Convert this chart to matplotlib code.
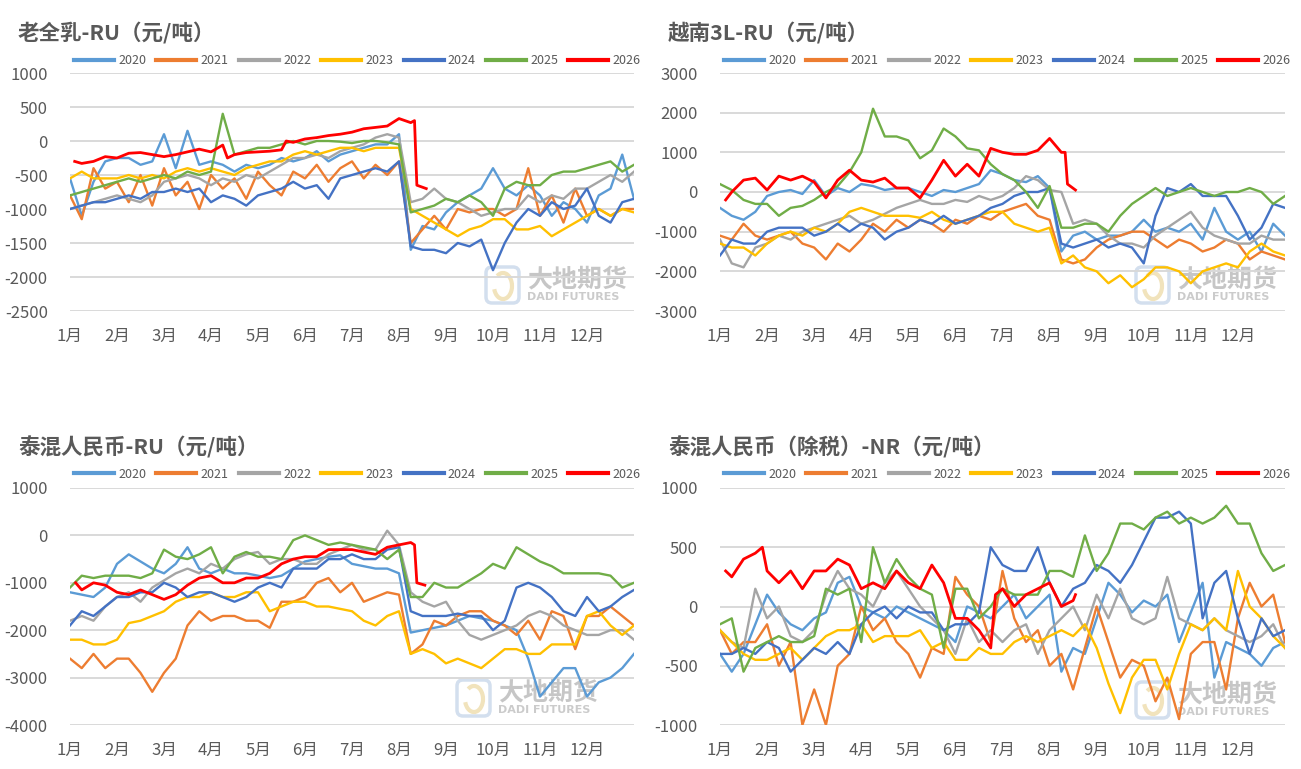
import numpy as np
import matplotlib
matplotlib.use('agg')
import matplotlib.pyplot as plt
from matplotlib.patches import FancyBboxPatch, Arc
from matplotlib.transforms import IdentityTransform

plt.rcParams['font.family'] = ['Noto Sans CJK SC', 'DejaVu Sans']
plt.rcParams['axes.unicode_minus'] = False

W, H = 1301, 769
YEARS = ['2020', '2021', '2022', '2023', '2024', '2025', '2026']
COLORS = ['#5B9BD5', '#ED7D31', '#A5A5A5', '#FFC000', '#4472C4', '#70AD47', '#FF0000']
MONTHS = ['1月', '2月', '3月', '4月', '5月', '6月', '7月', '8月', '9月', '10月', '11月', '12月']
TXT = '#595959'

# weekly-ish grid, in months since 1 Jan (2020-2025 series)
grid_x = np.arange(49) / 4

# ---- 老全乳-RU ----
p1_2020 = [-550, -1100, -600, -300, -250, -250, -350, -300, 100, -400, 150, -350, -300, -350, -450, -350, -400,
           -350, -250, -300, -250, -150, -300, -200, -150, -100, -50, -50, 100, -1600, -1250, -1300, -1050, -900,
           -800, -700, -400, -700, -800, -650, -800, -1100, -900, -1000, -1200, -800, -700, -200, -850]
p1_2021 = [-800, -1150, -400, -700, -600, -900, -500, -950, -400, -800, -600, -1000, -500, -700, -550, -850, -450,
           -650, -800, -450, -550, -350, -600, -400, -300, -550, -350, -500, -300, -1500, -1300, -1100, -1300,
           -1000, -1050, -1000, -1000, -1100, -1000, -400, -1100, -800, -1200, -700, -1100, -1000, -1100, -1000, -1000]
p1_2022 = [-1000, -950, -900, -850, -800, -850, -900, -800, -600, -550, -500, -550, -650, -550, -600, -500, -550,
           -450, -350, -250, -250, -200, -250, -150, -100, -50, 50, 100, 50, -900, -850, -700, -850, -900, -1000,
           -1100, -1050, -1000, -1000, -800, -900, -800, -850, -700, -700, -600, -500, -600, -450]
p1_2023 = [-550, -450, -550, -550, -550, -500, -550, -500, -550, -450, -400, -450, -400, -450, -500, -400, -350,
           -300, -300, -200, -150, -200, -150, -100, -100, -150, -100, -100, -100, -1000, -1100, -1200, -1300,
           -1400, -1300, -1250, -1150, -1150, -1300, -1300, -1250, -1400, -1300, -1200, -1100, -1000, -1100, -1000, -1050]
p1_2024 = [-1000, -950, -900, -900, -850, -800, -850, -750, -750, -700, -750, -700, -900, -800, -850, -950, -800,
           -750, -700, -600, -700, -650, -850, -550, -500, -450, -400, -450, -300, -1550, -1600, -1600, -1650,
           -1500, -1550, -1450, -1900, -1500, -1200, -1000, -1100, -900, -1000, -950, -700, -1100, -1200, -900, -850]
p1_2025 = [-800, -750, -700, -650, -600, -550, -600, -550, -500, -550, -450, -500, -450, 400, -200, -150, -100,
           -100, -50, 0, -50, 0, 0, -10, -30, 0, 0, -20, -50, -1050, -1000, -950, -850, -900, -800, -900, -1100,
           -700, -600, -650, -650, -500, -450, -450, -400, -350, -300, -450, -350]
p1_2026_x = [0.1, 0.25, 0.5, 0.75, 1.0, 1.25, 1.5, 1.75, 2.0, 2.25, 2.5, 2.75, 3.0, 3.25, 3.35, 3.5, 3.75, 4.0,
             4.25, 4.5, 4.6, 4.75, 5.0, 5.25, 5.5, 5.75, 6.0, 6.25, 6.5, 6.75, 7.0, 7.25, 7.33, 7.38, 7.58]
p1_2026 = [-300, -330, -300, -230, -250, -180, -170, -200, -230, -200, -160, -120, -160, -60, -250, -200, -170,
           -160, -150, -130, 0, -20, 30, 50, 80, 100, 130, 180, 200, 220, 330, 270, 300, -650, -700]

# ---- 越南3L-RU ----
p2_2020 = [-400, -600, -700, -500, -100, 0, 50, -50, 300, -100, 100, 0, 200, 150, 50, 100, 100, 0, -100, 50, 0,
           100, 200, 550, 450, 300, 250, 400, 100, -1500, -1100, -1000, -1200, -1100, -1100, -1000, -700, -1000,
           -900, -1000, -800, -1200, -400, -1000, -1200, -1000, -1500, -800, -1100]
p2_2021 = [-1100, -1200, -800, -1100, -1200, -1100, -1000, -1300, -1400, -1700, -1300, -1500, -1200, -800, -1000,
           -700, -900, -700, -800, -1000, -700, -800, -600, -700, -500, -400, -300, -600, -700, -1700, -1800, -1700,
           -1400, -1200, -1100, -1000, -1000, -1200, -1400, -1200, -1300, -1500, -1400, -1200, -1300, -1700, -1500,
           -1600, -1700]
p2_2022 = [-1200, -1800, -1900, -1400, -1300, -1100, -1200, -1000, -900, -800, -700, -600, -800, -700, -550, -400,
           -300, -200, -300, -300, -200, -250, -100, -200, -100, 100, 400, 300, 50, 0, -800, -700, -800, -1100,
           -1300, -1300, -1400, -1100, -900, -700, -500, -900, -1100, -1200, -1300, -1300, -1100, -1200, -1200]
p2_2023 = [-1300, -1400, -1400, -1600, -1300, -1100, -1000, -1100, -900, -1000, -800, -500, -400, -500, -600, -600,
           -600, -650, -500, -700, -800, -700, -600, -500, -500, -800, -900, -1000, -900, -1800, -1600, -1900, -2000,
           -2300, -2100, -2400, -2200, -1900, -1900, -2000, -2300, -2000, -1900, -1800, -1900, -1500, -1300, -1500, -1600]
p2_2024 = [-1600, -1200, -1300, -1300, -1000, -900, -900, -900, -1100, -1000, -800, -1000, -800, -900, -1200, -1000,
           -900, -700, -800, -600, -800, -700, -600, -400, -300, -100, 0, 0, 100, -1300, -1400, -1300, -1200, -1400,
           -1300, -1400, -1800, -600, 100, 0, 200, -100, -100, -100, -600, -1200, -900, -300, -400]
p2_2025 = [200, 50, -200, -300, -300, -600, -400, -350, -200, 0, 150, 500, 1000, 2100, 1400, 1400, 1300, 850, 1050,
           1600, 1400, 1100, 1050, 700, 450, 300, 0, -400, 150, -900, -900, -800, -800, -1000, -600, -300, -100, 100,
           -100, 0, 100, 0, -100, 0, 0, 100, 0, -300, -100]
p2_2026_x = [0.12, 0.25, 0.5, 0.75, 1.0, 1.25, 1.5, 1.75, 2.0, 2.25, 2.5, 2.75, 3.0, 3.25, 3.5, 3.75, 4.0, 4.25,
             4.5, 4.75, 5.0, 5.25, 5.5, 5.75, 6.0, 6.25, 6.5, 6.75, 7.0, 7.25, 7.33, 7.38, 7.55]
p2_2026 = [-200, 0, 300, 350, 50, 400, 300, 400, 250, -150, 300, 550, 300, 250, 350, 100, 100, -150, 300, 800, 400,
           700, 400, 1100, 1000, 950, 950, 1050, 1350, 1000, 1000, 200, 50]

# ---- 泰混人民币-RU ----
p3_2020 = [-1200, -1250, -1300, -1100, -600, -400, -550, -700, -800, -600, -250, -700, -800, -700, -800, -800, -850,
           -900, -850, -700, -550, -500, -450, -420, -600, -650, -700, -700, -800, -2050, -2000, -1950, -1900, -1800,
           -1700, -1750, -1800, -1900, -2000, -2600, -3400, -3100, -2800, -2800, -3400, -3100, -3000, -2800, -2500]
p3_2021 = [-2600, -2800, -2500, -2800, -2600, -2600, -2900, -3300, -2900, -2600, -1900, -1600, -1800, -1700, -1700,
           -1800, -1800, -1950, -1400, -1400, -1300, -1000, -900, -1200, -1000, -1400, -1300, -1200, -1250, -2500,
           -2300, -1800, -1900, -1700, -1600, -1600, -1800, -1900, -2100, -1800, -2200, -1600, -1700, -2400, -1700,
           -1700, -1500, -1700, -1900]
p3_2022 = [-1800, -1700, -1800, -1500, -1300, -1200, -1400, -1100, -950, -800, -700, -800, -600, -700, -500, -400,
           -350, -600, -500, -500, -600, -600, -400, -300, -200, -300, -300, 100, -200, -1200, -1400, -1500, -1400,
           -1800, -2100, -2200, -2100, -2000, -1900, -1700, -1600, -1700, -1900, -2000, -2100, -2100, -2000, -2000, -2200]
p3_2023 = [-2200, -2200, -2300, -2300, -2200, -1850, -1800, -1700, -1600, -1400, -1300, -1300, -1200, -1300, -1300,
           -1200, -1200, -1600, -1500, -1400, -1400, -1500, -1500, -1550, -1600, -1800, -1900, -1700, -1600, -2500,
           -2400, -2500, -2700, -2600, -2700, -2800, -2600, -2400, -2400, -2500, -2500, -2300, -2300, -2300, -1700,
           -1600, -1900, -2100, -1900]
p3_2024 = [-1900, -1600, -1700, -1500, -1300, -1300, -1200, -1200, -1000, -1100, -1300, -1200, -1200, -1300, -1400,
           -1300, -1100, -1000, -1100, -700, -700, -700, -500, -500, -400, -500, -500, -300, -250, -1600, -1700,
           -1700, -1700, -1650, -1700, -1700, -2000, -1800, -1100, -1000, -1100, -1300, -1600, -1700, -1300, -1600,
           -1500, -1300, -1150]
p3_2025 = [-1100, -850, -900, -850, -850, -850, -900, -800, -300, -450, -500, -400, -250, -800, -450, -350, -450,
           -450, -500, -100, 0, -100, -200, -150, -200, -250, -300, -500, -300, -1300, -1300, -1000, -1100, -1100,
           -950, -800, -600, -700, -250, -400, -550, -650, -800, -800, -800, -800, -850, -1100, -1000]
p3_2026_x = [0.12, 0.25, 0.5, 0.75, 1.0, 1.25, 1.5, 1.75, 2.0, 2.25, 2.5, 2.75, 3.0, 3.25, 3.5, 3.75, 4.0, 4.25,
             4.5, 4.75, 5.0, 5.25, 5.5, 5.75, 6.0, 6.25, 6.5, 6.75, 7.0, 7.25, 7.33, 7.38, 7.55]
p3_2026 = [-1000, -1150, -1000, -1050, -1200, -1250, -1150, -1250, -1350, -1250, -1050, -900, -850, -1000, -1000,
           -900, -900, -800, -600, -500, -450, -450, -300, -300, -300, -350, -400, -250, -200, -150, -200, -1000, -1050]

# ---- 泰混人民币（除税）-NR ----
p4_2020 = [-400, -550, -400, -150, 100, -50, -150, -200, -100, -50, 200, 250, 0, -50, -100, 0, -50, -100, -150,
           -200, -300, 0, -50, -100, 0, 100, -100, 0, 100, -550, -350, -400, -100, 200, 100, -50, 50, 0, 100, -300,
           -50, 200, -600, -300, -350, -400, -500, -350, -300]
p4_2021 = [-200, -400, -300, -300, -150, -500, -300, -1000, -700, -1000, -500, -400, 0, -200, -100, -300, -400, -600,
           -350, -400, 250, 100, 0, -300, 300, -100, -300, -200, -500, -400, -700, -350, 0, -300, -600, -450, -500,
           -800, -600, -950, -400, -300, -300, -700, -100, 200, 0, 100, -300]
p4_2022 = [-200, -300, -350, 150, -100, 0, -250, -300, -200, 100, 300, 150, 100, 0, 200, 300, 150, 0, -100, -200,
           -400, -100, -300, -200, -300, -200, -150, -400, -200, -100, 0, -200, 100, -100, 150, -100, -150, -100, 250,
           -100, -150, -200, -100, -200, -250, -300, -250, -150, -350]
p4_2023 = [-200, -300, -400, -450, -450, -400, -350, -450, -350, -250, -200, -200, -150, -300, -250, -250, -250, -200,
           -350, -300, -450, -450, -350, -400, -400, -300, -250, -300, -250, -200, -250, -150, -350, -650, -900, -600,
           -450, -450, -700, -400, -150, -200, -100, -200, 300, 0, -100, -250, -350]
p4_2024 = [-400, -400, -350, -400, -300, -350, -550, -450, -350, -400, -300, -400, -150, -50, 0, -100, 0, -50, -50,
           -200, -150, -150, -50, 500, 350, 300, 300, 500, 200, 0, 150, 200, 350, 300, 200, 350, 550, 750, 750, 800,
           700, -100, 200, 300, -100, -400, -100, -250, -200]
p4_2025 = [-150, -100, -550, -350, -300, -250, -300, -300, -250, 150, 100, 150, -300, 500, 200, 400, 250, 150, 100,
           -350, 150, 150, -100, 0, 150, 100, 100, 100, 300, 300, 250, 600, 300, 450, 700, 700, 650, 750, 800, 700,
           750, 700, 750, 850, 700, 700, 450, 300, 350]
p4_2026_x = [0.12, 0.25, 0.5, 0.75, 0.9, 1.0, 1.25, 1.5, 1.75, 2.0, 2.25, 2.5, 2.75, 3.0, 3.25, 3.5, 3.75, 4.0,
             4.25, 4.5, 4.75, 5.0, 5.25, 5.5, 5.75, 5.85, 6.0, 6.25, 6.5, 6.75, 7.0, 7.25, 7.5, 7.55]
p4_2026 = [300, 250, 400, 450, 500, 300, 200, 300, 150, 300, 300, 400, 350, 150, 200, 150, 300, 200, 150, 350, 200,
           -100, -100, -200, -350, 100, 150, 0, 100, 150, 200, 0, 50, 100]


def frac_rect(l, t, r, b):
    return [l / W, 1 - b / H, (r - l) / W, (b - t) / H]


def watermark(fig, x0, y0):
    # drawn under the axes (axes background is transparent)
    tr = IdentityTransform()
    box = FancyBboxPatch((x0, H - y0 - 36), 33, 36, boxstyle='round,pad=0,rounding_size=6',
                         transform=tr, fill=False, ec='#D3DFEE', lw=2.5, zorder=-1)
    fig.add_artist(box)
    fig.add_artist(Arc((x0 + 17, H - y0 - 19), 18, 26, theta1=200, theta2=120, transform=tr,
                       color='#F1E3BC', lw=3, zorder=-1))
    fig.text((x0 + 41) / W, 1 - (y0 + 13) / H, '大地期货', fontsize=18, fontweight='bold',
             color='#C6C6C6', ha='left', va='center', zorder=-1)
    fig.text((x0 + 41) / W, 1 - (y0 + 30) / H, 'DADI FUTURES', fontsize=8, fontweight='bold',
             color='#CBCBCB', ha='left', va='center', family='DejaVu Sans', zorder=-1)


def panel(fig, box, title, title_y, leg_x, leg_y, series, x26, y26, ylim, ystep, wm):
    ax = fig.add_axes(frac_rect(*box))
    ax.patch.set_alpha(0)
    ax.set_axisbelow(True)
    ax.grid(axis='y', color='#D9D9D9', lw=1.4)
    lines = []
    for c, vals in zip(COLORS[:6], series):
        ln, = ax.plot(grid_x, vals, color=c, lw=1.7, solid_joinstyle='round')
        lines.append(ln)
    ln, = ax.plot(x26, y26, color=COLORS[6], lw=2.0, solid_joinstyle='round')
    lines.append(ln)
    ax.set_xlim(0, 12)
    ax.set_ylim(*ylim)
    ax.set_yticks(np.arange(ylim[0], ylim[1] + 1, ystep))
    ax.set_xticks(range(12))
    ax.set_xticklabels(MONTHS)
    ax.tick_params(axis='both', length=0, labelsize=12, colors=TXT)
    ax.tick_params(axis='x', pad=12)
    ax.tick_params(axis='y', pad=16)
    for s in ax.spines.values():
        s.set_visible(False)
    fig.text(18 / W if box[0] < 600 else 668 / W, 1 - title_y / H, title, fontsize=15.5,
             fontweight='bold', color=TXT, ha='left', va='center')
    leg = fig.legend(lines, YEARS, loc='center left', bbox_to_anchor=(leg_x / W, 1 - leg_y / H),
                     ncol=7, frameon=False, fontsize=9, handlelength=3.2, handletextpad=0.35,
                     columnspacing=0.8, borderpad=0, borderaxespad=0)
    for h in leg.get_lines():
        h.set_linewidth(3)
    for t in leg.get_texts():
        t.set_color(TXT)
    watermark(fig, *wm)
    return ax


fig = plt.figure(figsize=(W / 100, H / 100), dpi=100)
fig.patch.set_facecolor('white')

panel(fig, (70, 73, 634, 311), '老全乳-RU（元/吨）', 33, 74, 61,
      [p1_2020, p1_2021, p1_2022, p1_2023, p1_2024, p1_2025], p1_2026_x, p1_2026,
      (-2500, 1000), 500, (486, 267))
panel(fig, (720, 73, 1285, 311), '越南3L-RU（元/吨）', 33, 724, 61,
      [p2_2020, p2_2021, p2_2022, p2_2023, p2_2024, p2_2025], p2_2026_x, p2_2026,
      (-3000, 3000), 1000, (1136, 267))
panel(fig, (70, 488, 634, 725), '泰混人民币-RU（元/吨）', 447, 74, 474,
      [p3_2020, p3_2021, p3_2022, p3_2023, p3_2024, p3_2025], p3_2026_x, p3_2026,
      (-4000, 1000), 1000, (457, 680))
panel(fig, (720, 488, 1285, 725), '泰混人民币（除税）-NR（元/吨）', 447, 724, 474,
      [p4_2020, p4_2021, p4_2022, p4_2023, p4_2024, p4_2025], p4_2026_x, p4_2026,
      (-1000, 1000), 500, (1136, 682))

fig.savefig('out.png', dpi=100, facecolor='white')
